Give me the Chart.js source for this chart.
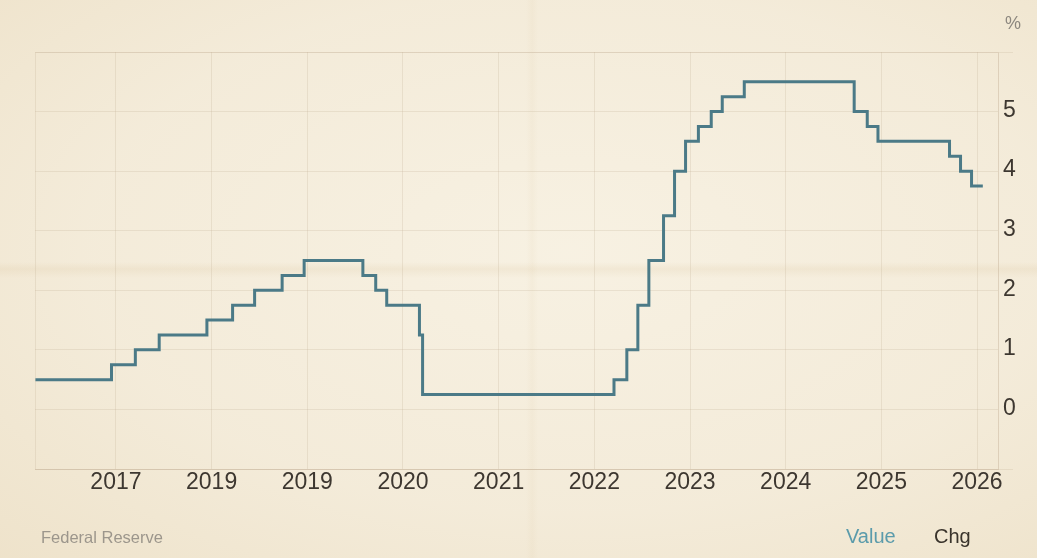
<!DOCTYPE html>
<html>
<head>
<meta charset="utf-8">
<script src="https://cdn.jsdelivr.net/npm/chart.js@4.4.1/dist/chart.umd.min.js"></script>
<style>
  html, body { margin: 0; padding: 0; }
  body {
    width: 1037px; height: 558px; overflow: hidden; position: relative;
    background-color: #f4ecdb;
    background-image:
      linear-gradient(to bottom, rgba(0,0,0,0) 262px, rgba(205,175,125,0.13) 269px, rgba(0,0,0,0) 278px),
      linear-gradient(to right, rgba(0,0,0,0) 526px, rgba(205,178,130,0.07) 532px, rgba(0,0,0,0) 538px),
      radial-gradient(ellipse at 55% 45%, rgba(250,245,232,0.55) 0%, rgba(242,232,210,0.2) 60%, rgba(225,205,165,0.3) 100%);
    font-family: "Liberation Sans", Arial, sans-serif;
  }
  #chart { position: absolute; left: 0; top: 0; }
  .txt { position: absolute; white-space: nowrap; }
  #unit { left: 1005px; top: 13px; font-size: 18px; color: #8c877f; }
  #source { left: 41px; top: 528px; font-size: 16.5px; color: #9c968c; }
  #value { left: 846px; top: 525px; font-size: 20px; color: #5b9bab; }
  #chg { left: 934px; top: 525px; font-size: 20px; color: #3a342c; }
</style>
</head>
<body>
<canvas id="chart" width="1037" height="558"></canvas>
<div class="txt" id="unit">%</div>
<div class="txt" id="source">Federal Reserve</div>
<div class="txt" id="value">Value</div>
<div class="txt" id="chg">Chg</div>
<script>
// Fed funds target (upper bound), each date = day the new level takes effect
const rateDates = [
  "2016-02-28", "2016-12-15", "2017-03-16", "2017-06-15", "2017-12-14",
  "2018-03-22", "2018-06-14", "2018-09-27", "2018-12-20", "2019-08-01",
  "2019-09-19", "2019-10-31", "2020-03-04", "2020-03-16", "2022-03-17",
  "2022-05-05", "2022-06-16", "2022-07-28", "2022-09-22", "2022-11-03",
  "2022-12-15", "2023-02-02", "2023-03-23", "2023-05-04", "2023-07-27",
  "2024-09-19", "2024-11-08", "2024-12-19", "2025-09-18", "2025-10-30",
  "2025-12-11", "2026-01-23"
];
const rateValues = [
  0.5, 0.75, 1, 1.25, 1.5,
  1.75, 2, 2.25, 2.5, 2.25,
  2, 1.75, 1.25, 0.25, 0.5,
  1, 1.75, 2.5, 3.25, 4,
  4.5, 4.75, 5, 5.25, 5.5,
  5, 4.75, 4.5, 4.25, 4,
  3.75, 3.75
];

// x axis ticks (labels as printed on the original, incl. the repeated 2019)
const xTickValues = [2017, 2018, 2019, 2020, 2021, 2022, 2023, 2024, 2025, 2026];
const xTickLabels = ["2017", "2019", "2019", "2020", "2021", "2022", "2023", "2024", "2025", "2026"];
const xMin = 2016.154;
const xMax = 2026.219;
const yMin = -1;
const yMax = 6;

const GRID = "rgba(185,170,140,0.22)";
const LABEL_FONT = "'Liberation Sans', Arial, sans-serif";

function toYear(str) {
  const d = new Date(str + "T00:00:00Z");
  const y = d.getUTCFullYear();
  const start = Date.UTC(y, 0, 1);
  const end = Date.UTC(y + 1, 0, 1);
  return y + (d.getTime() - start) / (end - start);
}

const points = rateDates.map((s, i) => ({ x: toYear(s), y: rateValues[i] }));

// thin frame around the plot area
const framePlugin = {
  id: "frame",
  beforeDatasetsDraw(chart) {
    const { ctx, chartArea: a } = chart;
    ctx.save();
    ctx.strokeStyle = GRID;
    ctx.lineWidth = 1;
    ctx.strokeRect(a.left + 0.5, a.top + 0.5, a.right - a.left, a.bottom - a.top);
    ctx.restore();
  }
};

new Chart(document.getElementById("chart"), {
  type: "line",
  data: {
    datasets: [{
      data: points,
      stepped: "before",
      borderColor: "#4b7a87",
      borderWidth: 3,
      pointRadius: 0,
      fill: false,
      tension: 0
    }]
  },
  options: {
    responsive: false,
    animation: false,
    layout: { padding: { left: 35, top: 52, right: 0, bottom: 0 } },
    plugins: { legend: { display: false }, tooltip: { enabled: false } },
    scales: {
      x: {
        type: "linear",
        min: xMin,
        max: xMax,
        afterBuildTicks: scale => {
          scale.ticks = xTickValues.map(v => ({ value: v }));
        },
        afterFit: scale => { scale.height = 89; },
        grid: { color: GRID, drawTicks: false },
        border: { color: GRID },
        ticks: {
          padding: 2,
          maxRotation: 0,
          autoSkip: false,
          color: "#3d3730",
          font: { family: LABEL_FONT, size: 23, lineHeight: 1 },
          callback: (v, i) => xTickLabels[i]
        }
      },
      y: {
        position: "right",
        min: yMin,
        max: yMax,
        afterFit: scale => { scale.width = 39; },
        grid: {
          color: GRID,
          tickLength: 15,
          tickColor: c => (c.tick && (c.tick.value === yMin || c.tick.value === yMax)) ? GRID : "rgba(0,0,0,0)"
        },
        border: { color: GRID },
        ticks: {
          stepSize: 1,
          padding: -10,
          labelOffset: -1,
          color: "#3d3730",
          font: { family: LABEL_FONT, size: 23, lineHeight: 1 },
          callback: v => (v < 0 || v > 5) ? "" : v
        }
      }
    }
  },
  plugins: [framePlugin]
});
</script>
</body>
</html>
